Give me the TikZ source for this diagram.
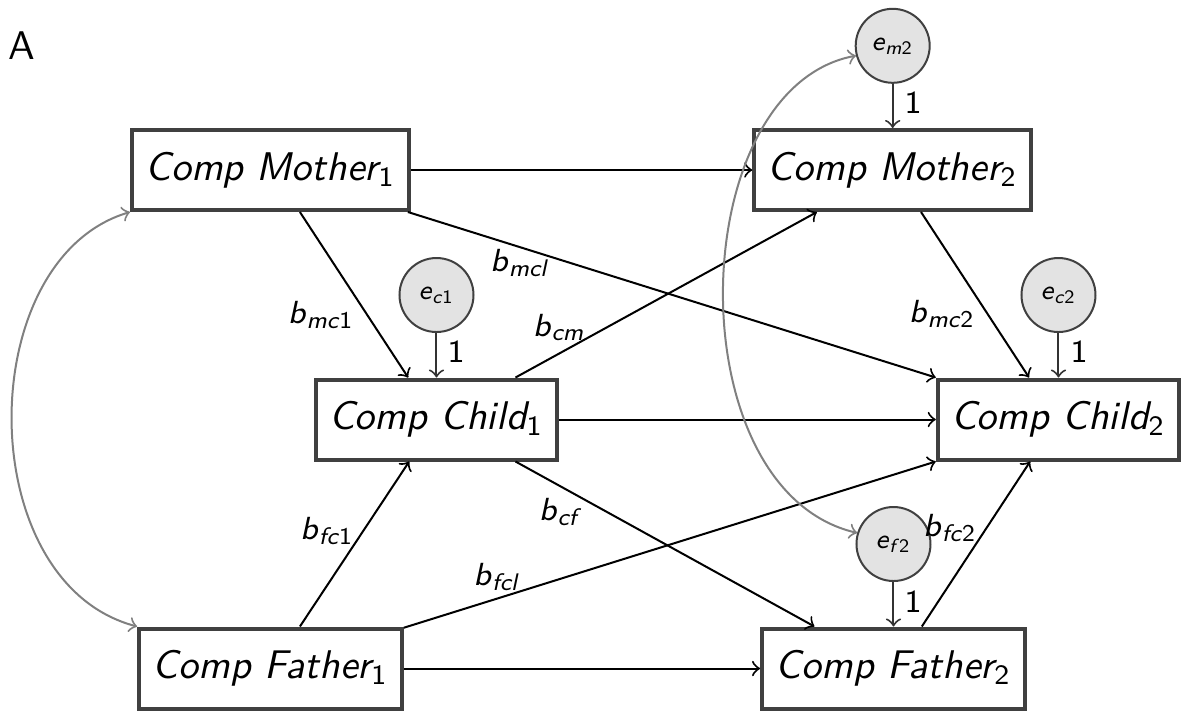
\documentclass[tikz,border=0pt]{standalone}
\usepackage{fontspec}
\newcommand\blab[2]{\textit{b}\textsubscript{\textit{#1}#2}}
\newcommand\elab[2]{\textit{e}\textsubscript{\textit{#1}#2}}
\tikzset{
  box/.style={draw=black!75, line width=1pt, minimum height=20pt, inner xsep=3.4pt, inner ysep=0pt,
    font=\fontsize{10}{12}\selectfont\sffamily\itshape},
  err/.style={circle, draw=black!75, fill=black!11, line width=0.5pt, minimum size=18.5pt, inner sep=0pt,
    font=\fontsize{6.8}{7.5}\selectfont\sffamily},
  conn/.style={->, line width=0.5pt},
  econn/.style={->, draw=black!80, line width=0.5pt},
  cov/.style={<->, draw=black!50, line width=0.5pt},
  lab/.style={font=\fontsize{8}{9}\selectfont\sffamily, inner sep=0pt},
}
\begin{document}
\begin{tikzpicture}[x=0.25pt,y=-0.25pt]
\useasboundingbox (0,0) rectangle (1182,711);
\node[font=\fontsize{10}{12}\selectfont\sffamily] (A) at (22,46) {A};
% boxes
\node[box] (m1) at (270.5,170) {Comp Mother\textsubscript{\upshape 1}};
\node[box] (m2) at (892.7,170) {Comp Mother\textsubscript{\upshape 2}};
\node[box] (c1) at (436.5,419.5) {Comp Child\textsubscript{\upshape 1}};
\node[box] (c2) at (1058.5,419.5) {Comp Child\textsubscript{\upshape 2}};
\node[box] (f1) at (270.5,668.5) {Comp Father\textsubscript{\upshape 1}};
\node[box] (f2) at (893.5,668.5) {Comp Father\textsubscript{\upshape 2}};
% error terms
\node[err] (em2) at (892.7,45.8) {\elab{m}{2}};
\node[err] (ec1) at (436.5,295) {\elab{c}{1}};
\node[err] (ec2) at (1058.5,295) {\elab{c}{2}};
\node[err] (ef2) at (893.5,544) {\elab{f}{2}};
% horizontal paths
\draw[conn] (m1.east) -- (m2.west);
\draw[conn] (c1.east) -- (c2.west);
\draw[conn] (f1.east) -- (f2.west);
% cross paths
\draw[conn] (m1.-55.5) -- (c1.124);
\draw[conn] (m1.-17.4) -- (c2.north west);
\draw[conn] (c1.28.5) -- (m2.-151.8);
\draw[conn] (m2.-56.7) -- (c2.125.8);
\draw[conn] (c1.-28.5) -- (f2.152);
\draw[conn] (f1.55.2) -- (c1.-123.5);
\draw[conn] (f1.17) -- (c2.south west);
\draw[conn] (f2.56.1) -- (c2.-124.5);
% error arrows
\draw[econn] (em2.south) -- (m2.north);
\draw[econn] (ec1.south) -- (c1.north);
\draw[econn] (ec2.south) -- (c2.north);
\draw[econn] (ef2.south) -- (f2.north);
% covariances
\draw[cov] (m1.south west) .. controls +(-158,47) and +(-166,-44) .. (f1.north west);
\draw[cov] (em2.195.8) .. controls +(-173,33) and +(-182,-43) .. (ef2.163);
% labels
\node[lab] (l1) at (321,315) {\blab{mc}{1}};
\node[lab] (l2) at (520,263) {\blab{mcl}{}};
\node[lab] (l3) at (559,328) {\blab{cm}{}};
\node[lab] (l4) at (942,314) {\blab{mc}{2}};
\node[lab] (l5) at (327,531) {\blab{fc}{1}};
\node[lab] (l6) at (561,512) {\blab{cf}{}};
\node[lab] (l7) at (497,577) {\blab{fcl}{}};
\node[lab] (l8) at (950,528) {\blab{fc}{2}};
\node[lab] (o1) at (913,103) {1};
\node[lab] (o2) at (456,352) {1};
\node[lab] (o3) at (1079,352) {1};
\node[lab] (o4) at (913,602) {1};
\end{tikzpicture}
\end{document}
